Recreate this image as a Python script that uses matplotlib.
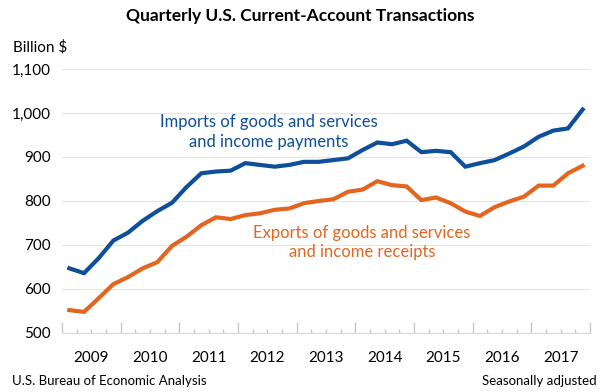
import numpy as np
import matplotlib.pyplot as plt

plt.rcParams['font.family'] = ['Lato', 'DejaVu Sans']

# Quarterly values, 2009Q1 - 2017Q4, billion $
years = ['2009', '2010', '2011', '2012', '2013', '2014', '2015', '2016', '2017']
imports = [647, 636, 670, 710, 728, 755, 777, 796, 832, 863,
           867, 869, 886, 882, 878, 882, 889, 889, 893, 897,
           916, 933, 929, 937, 911, 914, 911, 878, 886, 893,
           908, 924, 946, 960, 965, 1008]
exports = [552, 548, 579, 611, 627, 647, 661, 698, 719, 745,
           763, 759, 768, 772, 780, 783, 795, 800, 804, 821,
           826, 845, 836, 833, 802, 808, 795, 776, 766, 786,
           799, 810, 835, 835, 863, 880]

blue = '#0d4f99'
orange = '#e2661f'

fig = plt.figure(figsize=(6.01, 3.92), dpi=100)
ax = fig.add_axes([62 / 601, 59 / 392, 528 / 601, 264 / 392])

x = np.arange(len(imports)) + 0.5
ax.plot(x, imports, color=blue, lw=3, solid_joinstyle='miter')
ax.plot(x, exports, color=orange, lw=3, solid_joinstyle='miter')

ax.set_xlim(0, 36)
ax.set_ylim(500, 1100)
ax.set_yticks(range(500, 1101, 100))
ax.set_yticklabels(['500', '600', '700', '800', '900', '1,000', '1,100'], fontsize=11)
ax.yaxis.grid(True, color='#e6e6e6', lw=0.8)
ax.set_axisbelow(True)
ax.tick_params(axis='y', length=0, pad=8)

# year ticks at boundaries, quarter minor ticks, labels centered
ax.set_xticks(range(0, 37, 4))
ax.set_xticklabels([])
ax.set_xticks(range(0, 37), minor=True)
ax.tick_params(axis='x', which='major', direction='in', length=8, color='#c8c8c8', width=1)
ax.tick_params(axis='x', which='minor', direction='in', length=3, color='#c8c8c8', width=1)
for i, yr in enumerate(years):
    ax.text(i * 4 + 2, -0.07, yr, transform=ax.get_xaxis_transform(),
            ha='center', va='top', fontsize=11)

for s in ['top', 'right', 'left']:
    ax.spines[s].set_visible(False)
ax.spines['bottom'].set_color('#d9d9d9')

ax.text(14.1, 957, 'Imports of goods and services\nand income payments', color=blue,
        fontsize=12, ha='center', va='center', multialignment='center', linespacing=1.25)
ax.text(20.45, 705, 'Exports of goods and services\nand income receipts', color=orange,
        fontsize=12, ha='center', va='center', multialignment='center', linespacing=1.25)

fig.text(0.5, 1 - 16 / 392, 'Quarterly U.S. Current-Account Transactions',
         ha='center', va='center', fontsize=12.5, fontweight='bold')
fig.text(13 / 601, 1 - 47 / 392, 'Billion $', ha='left', va='center', fontsize=11)
fig.text(12 / 601, 1 - 381 / 392, 'U.S. Bureau of Economic Analysis', ha='left', va='center', fontsize=9.5)
fig.text(597 / 601, 1 - 381 / 392, 'Seasonally adjusted', ha='right', va='center', fontsize=9.5)

fig.savefig('out.png', dpi=100)
